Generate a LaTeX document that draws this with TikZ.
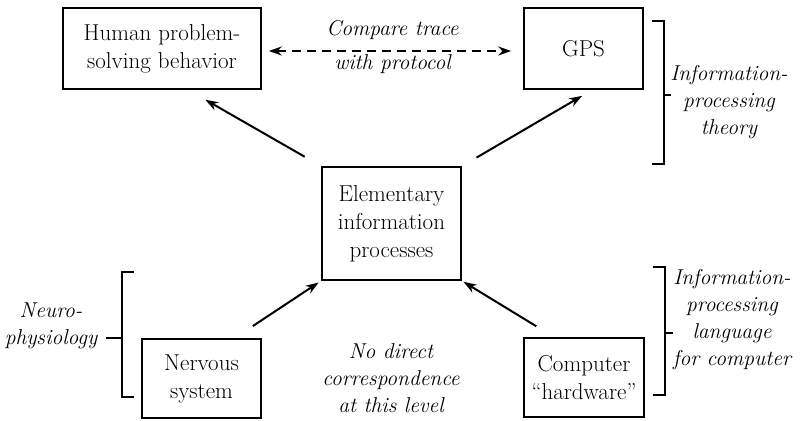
\documentclass[tikz,border=0pt]{standalone}
\usepackage{tikz}
\usetikzlibrary{positioning,arrows.meta}

\begin{document}
\begin{tikzpicture}[
  x=1pt, y=-1pt, >={Stealth[length=13pt, width=9pt]},
  font=\fontsize{23}{28}\selectfont,
  box/.style={draw, line width=1.6pt, align=center, inner sep=0pt},
  link/.style={line width=2pt},
  note/.style={font=\fontsize{21.5}{27}\selectfont\itshape, align=center, inner sep=0pt},
  brace/.style={line width=2pt},
]
  \useasboundingbox (0,0) rectangle (802,420);

  % the five boxes
  \node[box, minimum width=198pt, minimum height=81pt] (human) at (162,48.5)
        {Human problem-\\solving behavior};
  \node[box, minimum width=119pt, minimum height=81pt] (gps) at (583.5,48.5) {GPS};
  \node[box, minimum width=139pt, minimum height=113pt] (elem) at (391.5,223.5)
        {Elementary\\information\\processes};
  \node[box, minimum width=119pt, minimum height=79pt] (nerv) at (201.5,378.5)
        {Nervous\\system};
  \node[box, minimum width=120pt, minimum height=79pt] (comp) at (584,377.5)
        {Computer\\``hardware''};

  % arrows
  \draw[link, <->, dash pattern=on 9pt off 6pt, shorten <=7pt, shorten >=12pt]
        ([yshift=-2.5pt]human.east) -- ([yshift=-2.5pt]gps.west)
        node[note, midway, above=10pt] (cmp) {Compare trace}
        node[note, midway, below=3pt] (proto) {with protocol};
  \draw[link, ->, shorten <=19pt, shorten >=20pt] (elem.north west) -- ([xshift=26pt]human.south);
  \draw[link, ->, shorten <=17pt, shorten >=12pt] (elem.north east) -- ([xshift=9pt]gps.south);
  \draw[link, ->, shorten <=22pt, shorten >=3pt] ([xshift=33pt]nerv.north) -- (elem.south west);
  \draw[link, ->, shorten <=21pt, shorten >=2pt] ([xshift=31pt]comp.north west) -- (elem.south east);

  % brackets with their labels
  \draw[brace] (652,21) -- (664,21) -- (664,164) -- (652,164);
  \draw[brace] (664,95) -- (671,95);
  \node[note] (iptheory) at (729,102) {Information-\\processing\\theory};

  \draw[brace] (653,267) -- (665,267) -- (665,395) -- (653,395);
  \draw[brace] (665,333) -- (673,333);
  \node[note] (iplang) at (732,320) {Information-\\processing\\language\\for computer};

  \draw[brace] (134,272) -- (122,272) -- (122,397) -- (134,397);
  \draw[brace] (122,338) -- (106,338);
  \node[note] (neuro) at (51,326) {Neuro-\\physiology};

  \node[note] (nodirect) at (391,378) {No direct\\correspondence\\at this level};
\end{tikzpicture}
\end{document}
